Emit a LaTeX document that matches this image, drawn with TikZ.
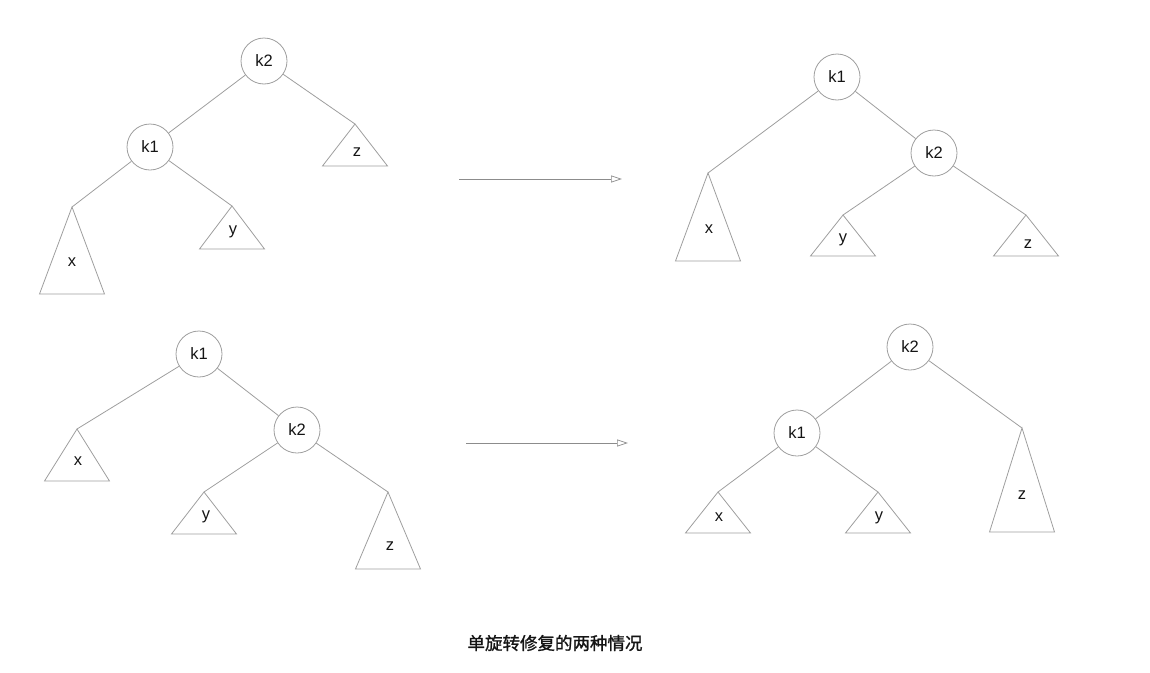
\documentclass[tikz,border=0pt]{standalone}
\usepackage{fontspec}
\setmainfont{Liberation Sans}
\newfontfamily\cjk[FakeBold=1.2]{Noto Sans CJK SC}
\usetikzlibrary{arrows.meta,calc}

% Subtree triangle: name, apex, height, label position, label text
\newcommand\subtree[5]{%
  \coordinate (#1) at (#2);
  \draw[edge] (#1) -- ++(-32.5,#3) -- ++(65,0) -- cycle;
  \node[lbl] (#1-t) at (#4) {#5};
}

\begin{document}
\begin{tikzpicture}[x=1pt,y=-1pt,
  edge/.style={draw=black!38,line width=0.8pt},
  key/.style={circle,draw=black!38,line width=0.8pt,minimum size=46pt,inner sep=0pt,
    font=\fontsize{16.5}{18}\selectfont,text=black!92},
  lbl/.style={inner sep=0pt,font=\fontsize{16.5}{18}\selectfont,text=black!92},
  move/.style={draw=black!45,line width=0.8pt,
    -{Triangle[open,length=11pt,width=7pt,line width=0.7pt]}}]
\useasboundingbox (0,0) rectangle (1150,672);

% top left: k2 over k1
\node[key] (tlk2) at (264,61) {k2};
\node[key] (tlk1) at (150,147) {k1};
\subtree{tlx}{72,207}{87}{72,262}{x}
\subtree{tly}{232,206}{43}{233,232}{y}
\subtree{tlz}{355,124}{42}{357,152}{z}
\draw[edge] (tlk2) -- (tlk1);
\draw[edge] (tlk2) -- (tlz);
\draw[edge] (tlk1) -- (tlx);
\draw[edge] (tlk1) -- (tly);

% top arrow
\coordinate (ta0) at (459,179);
\coordinate (ta1) at (622,179);
\draw[move] (ta0) -- (ta1);

% top right: k1 over k2
\node[key] (trk1) at (837,77) {k1};
\node[key] (trk2) at (934,153) {k2};
\subtree{trx}{708,173}{88}{709,229}{x}
\subtree{try}{843,215}{41}{843,240}{y}
\subtree{trz}{1026,215}{41}{1028,244}{z}
\draw[edge] (trk1) -- (trk2);
\draw[edge] (trk1) -- (trx);
\draw[edge] (trk2) -- (try);
\draw[edge] (trk2) -- (trz);

% bottom left: k1 over k2
\node[key] (blk1) at (199,354) {k1};
\node[key] (blk2) at (297,430) {k2};
\subtree{blx}{77,429}{52}{78,461}{x}
\subtree{bly}{204,492}{42}{206,517}{y}
\subtree{blz}{388,492}{77}{390,546}{z}
\draw[edge] (blk1) -- (blk2);
\draw[edge] (blk1) -- (blx);
\draw[edge] (blk2) -- (bly);
\draw[edge] (blk2) -- (blz);

% bottom arrow
\coordinate (ba0) at (466,443);
\coordinate (ba1) at (628,443);
\draw[move] (ba0) -- (ba1);

% bottom right: k2 over k1
\node[key] (brk2) at (910,347) {k2};
\node[key] (brk1) at (797,433) {k1};
\subtree{brx}{718,492}{41}{719,517}{x}
\subtree{bry}{878,492}{41}{879,518}{y}
\subtree{brz}{1022,428}{104}{1022,495}{z}
\draw[edge] (brk2) -- (brk1);
\draw[edge] (brk2) -- (brz);
\draw[edge] (brk1) -- (brx);
\draw[edge] (brk1) -- (bry);

% caption
\node[inner sep=0pt,font=\cjk\fontsize{17.5}{20}\selectfont,text=black!92] (cap) at (555,643) {单旋转修复的两种情况};
\end{tikzpicture}
\end{document}
